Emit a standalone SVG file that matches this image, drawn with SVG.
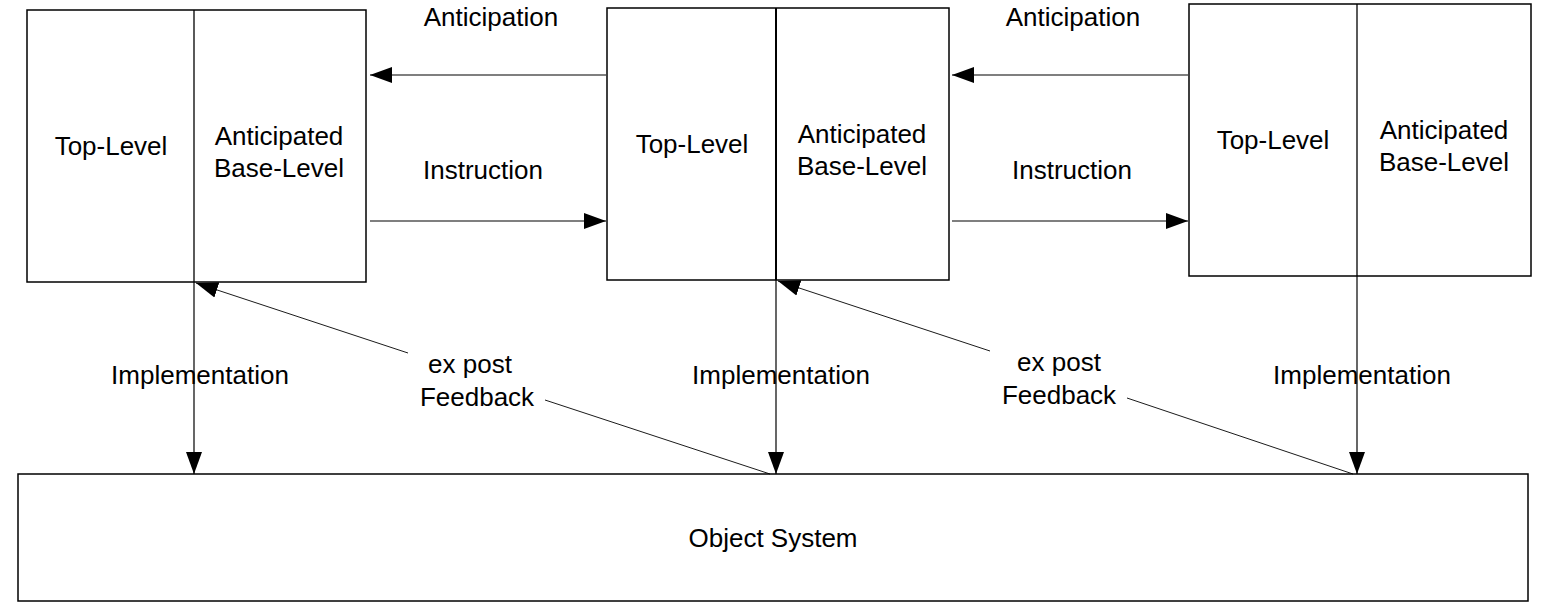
<svg xmlns="http://www.w3.org/2000/svg" width="1545" height="614" viewBox="0 0 1545 614">
<style>
text{font-family:"Liberation Sans",Arial,sans-serif;font-size:26px;fill:#000;text-anchor:middle}
.box{fill:#fff;stroke:#000;stroke-width:1.5}
.div{stroke:#000;stroke-width:1.3}
.con{stroke:#000;stroke-width:1.2;fill:none}
.fb{stroke:#000;stroke-width:0.9;fill:none}
</style>
<defs>
<marker id="ah" markerUnits="userSpaceOnUse" markerWidth="24" markerHeight="18" refX="22" refY="9" orient="auto" viewBox="0 0 24 18">
<path d="M0,1 L22,9 L0,17 Z" fill="#000"/>
</marker>
</defs>
<rect width="1545" height="614" fill="#fff"/>
<g id="node-meta1">
<rect class="box" x="27" y="10" width="339" height="272"/>
<line class="div" x1="194" y1="10" x2="194" y2="282"/>
<text x="111" y="155">Top-Level</text>
<text x="279" y="145">Anticipated</text>
<text x="279" y="177">Base-Level</text>
</g>
<g id="node-meta2">
<rect class="box" x="607" y="8" width="342" height="272"/>
<line class="div" x1="776" y1="8" x2="776" y2="280" style="stroke-width:2"/>
<text x="692" y="153">Top-Level</text>
<text x="862" y="143">Anticipated</text>
<text x="862" y="175">Base-Level</text>
</g>
<g id="node-meta3">
<rect class="box" x="1189" y="4" width="342" height="272"/>
<line class="div" x1="1357" y1="4" x2="1357" y2="276"/>
<text x="1273" y="149">Top-Level</text>
<text x="1444" y="139">Anticipated</text>
<text x="1444" y="171">Base-Level</text>
</g>
<g id="node-object">
<rect class="box" x="18" y="474" width="1510" height="127"/>
<text x="773" y="547">Object System</text>
</g>
<g id="connectors">
<line class="con" x1="606" y1="75" x2="370" y2="75" marker-end="url(#ah)"/>
<line class="con" x1="1188" y1="75" x2="952" y2="75" marker-end="url(#ah)"/>
<line class="con" x1="370" y1="221" x2="606" y2="221" marker-end="url(#ah)"/>
<line class="con" x1="952" y1="221" x2="1188" y2="221" marker-end="url(#ah)"/>
<line class="con" x1="194" y1="282" x2="194" y2="474" marker-end="url(#ah)"/>
<line class="con" x1="776" y1="280" x2="776" y2="474" marker-end="url(#ah)"/>
<line class="con" x1="1357" y1="276" x2="1357" y2="474" marker-end="url(#ah)"/>
<line class="fb" x1="770" y1="474" x2="545" y2="400"/>
<line class="fb" x1="408" y1="353" x2="196" y2="283" marker-end="url(#ah)"/>
<line class="fb" x1="1353" y1="474" x2="1127" y2="398"/>
<line class="fb" x1="990" y1="351" x2="778" y2="281" marker-end="url(#ah)"/>
</g>
<g id="labels">
<text x="491" y="26">Anticipation</text>
<text x="1073" y="26">Anticipation</text>
<text x="483" y="179">Instruction</text>
<text x="1072" y="179">Instruction</text>
<text x="200" y="384">Implementation</text>
<text x="781" y="384">Implementation</text>
<text x="1362" y="384">Implementation</text>
<text x="470" y="373">ex post</text>
<text x="477" y="406">Feedback</text>
<text x="1059" y="371">ex post</text>
<text x="1059" y="404">Feedback</text>
</g>
</svg>
